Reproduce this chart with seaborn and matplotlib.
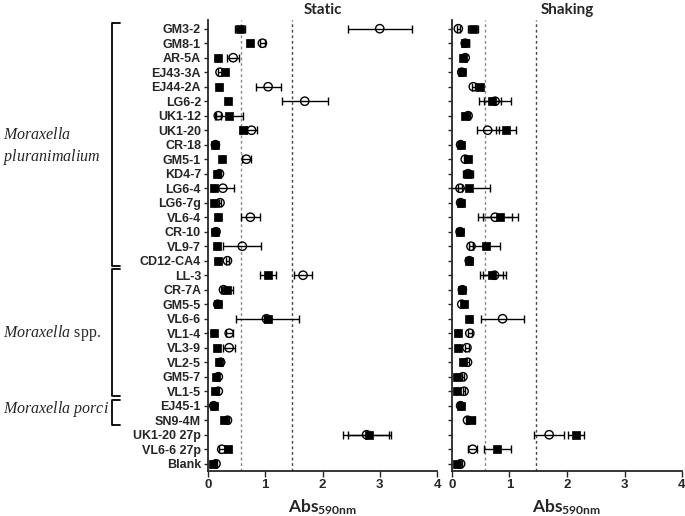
import numpy as np
import pandas as pd
import matplotlib
matplotlib.use("Agg")
import matplotlib.pyplot as plt
import matplotlib.transforms as mtransforms
import seaborn as sns

strains = ["GM3-2", "GM8-1", "AR-5A", "EJ43-3A", "EJ44-2A", "LG6-2", "UK1-12", "UK1-20",
           "CR-18", "GM5-1", "KD4-7", "LG6-4", "LG6-7g", "VL6-4", "CR-10", "VL9-7", "CD12-CA4",
           "LL-3", "CR-7A", "GM5-5", "VL6-6", "VL1-4", "VL3-9", "VL2-5", "GM5-7", "VL1-5",
           "EJ45-1", "SN9-4M", "UK1-20 27p", "VL6-6 27p", "Blank"]

static_sq = [0.56, 0.73, 0.18, 0.30, 0.19, 0.35, 0.37, 0.62, 0.12, 0.24, 0.15, 0.10, 0.10, 0.18, 0.13, 0.16, 0.17,
             1.05, 0.34, 0.17, 1.04, 0.11, 0.16, 0.19, 0.14, 0.12, 0.10, 0.28, 2.81, 0.35, 0.08]
static_sq_err = [0.08, 0.03, 0.02, 0.03, 0.02, 0.03, 0.24, 0.06, 0.02, 0.02, 0.02, 0.02, 0.02, 0.02, 0.02, 0.02, 0.02,
                 0.14, 0.10, 0.02, 0.55, 0.02, 0.02, 0.03, 0.02, 0.02, 0.02, 0.03, 0.36, 0.05, 0.02]
static_circ = [3.00, 0.95, 0.44, 0.21, 1.05, 1.69, 0.18, 0.76, 0.13, 0.67, 0.20, 0.26, 0.21, 0.74, 0.14, 0.60, 0.34,
               1.66, 0.27, 0.17, 1.02, 0.37, 0.37, 0.22, 0.18, 0.18, 0.10, 0.34, 2.77, 0.24, 0.14]
static_circ_err = [0.56, 0.04, 0.11, 0.03, 0.22, 0.40, 0.04, 0.10, 0.02, 0.08, 0.02, 0.20, 0.02, 0.16, 0.02, 0.33, 0.02,
                   0.16, 0.04, 0.02, 0.05, 0.06, 0.10, 0.02, 0.02, 0.02, 0.02, 0.03, 0.42, 0.05, 0.02]

shaking_sq = [0.37, 0.23, 0.19, 0.17, 0.48, 0.70, 0.23, 0.94, 0.15, 0.28, 0.28, 0.30, 0.15, 0.84, 0.14, 0.60, 0.30,
              0.69, 0.18, 0.21, 0.30, 0.11, 0.11, 0.20, 0.09, 0.09, 0.15, 0.33, 2.16, 0.79, 0.09]
shaking_sq_err = [0.09, 0.06, 0.03, 0.02, 0.04, 0.15, 0.04, 0.17, 0.02, 0.04, 0.08, 0.36, 0.02, 0.30, 0.02, 0.24, 0.04,
                  0.20, 0.02, 0.03, 0.03, 0.02, 0.02, 0.03, 0.02, 0.02, 0.02, 0.07, 0.14, 0.24, 0.02]
shaking_circ = [0.11, 0.23, 0.23, 0.17, 0.37, 0.75, 0.28, 0.62, 0.15, 0.23, 0.28, 0.14, 0.15, 0.75, 0.14, 0.33, 0.30,
                0.74, 0.18, 0.17, 0.88, 0.31, 0.26, 0.27, 0.19, 0.21, 0.15, 0.27, 1.69, 0.36, 0.15]
shaking_circ_err = [0.03, 0.06, 0.02, 0.02, 0.03, 0.28, 0.03, 0.19, 0.02, 0.02, 0.05, 0.03, 0.02, 0.30, 0.02, 0.03, 0.03,
                    0.20, 0.02, 0.02, 0.37, 0.03, 0.03, 0.02, 0.02, 0.02, 0.02, 0.03, 0.26, 0.08, 0.02]

thresholds = [0.58, 1.46]
x_ticks = [0, 1, 2, 3, 4]

groups = [("Moraxella\npluranimalium", "GM3-2", "CD12-CA4"),
          (r"$\it{Moraxella}$ spp.", "LL-3", "VL1-5"),
          (r"$\it{Moraxella\ porci}$", "EJ45-1", "SN9-4M")]

sns.set_style("ticks")
plt.rcParams["font.family"] = ["Liberation Sans", "DejaVu Sans"]
plt.rcParams["mathtext.fontset"] = "custom"
plt.rcParams["mathtext.it"] = "Liberation Serif:italic"
plt.rcParams["mathtext.rm"] = "Liberation Serif"
plt.rcParams["mathtext.bf"] = "Lato:bold"

fig = plt.figure(figsize=(6.85, 5.16), dpi=100)
ax1 = fig.add_axes([208 / 685, 1 - 471 / 516, 229 / 685, 451 / 516])
ax2 = fig.add_axes([452 / 685, 1 - 471 / 516, 230 / 685, 451 / 516])

panels = [(ax1, "Static", static_sq, static_sq_err, static_circ, static_circ_err),
          (ax2, "Shaking", shaking_sq, shaking_sq_err, shaking_circ, shaking_circ_err)]

for ax, title, sq, sqe, ci, cie in panels:
    df = pd.DataFrame({"strain": strains, "sq": sq, "sqe": sqe, "ci": ci, "cie": cie})
    sns.scatterplot(data=df, x="sq", y="strain", marker="s", color="black", s=34,
                    edgecolor="black", linewidth=0.5, ax=ax, zorder=3)
    ax.errorbar(df["sq"], df["strain"], xerr=df["sqe"], fmt="none", ecolor="black",
                elinewidth=1.0, capsize=3, capthick=1.0, zorder=2)
    ax.errorbar(df["ci"], df["strain"], xerr=df["cie"], fmt="none", ecolor="black",
                elinewidth=1.0, capsize=3, capthick=1.0, zorder=2)
    sns.scatterplot(data=df, x="ci", y="strain", marker="o", s=36,
                    facecolors="none", edgecolor="black", linewidth=1.0, ax=ax, zorder=4)
    for t, c in zip(thresholds, ["#888888", "#444444"]):
        ax.axvline(t, color=c, linestyle=(0, (2, 2)), linewidth=1.0, zorder=1)
    ax.set_xlim(0, 4)
    ax.set_ylim(len(strains) - 0.5, -0.6)
    ax.set_xticks(x_ticks)
    ax.set_xticklabels([str(v) for v in x_ticks], fontweight="bold", fontsize=9.5)
    ax.set_xlabel(r"$\mathbf{Abs_{590nm}}$", fontsize=12.5, labelpad=4)
    ax.set_ylabel("")
    ax.set_title(title, fontweight="bold", fontsize=11, pad=4, family="Lato")
    sns.despine(ax=ax)
    for sp in ["left", "bottom"]:
        ax.spines[sp].set_linewidth(1.3)
    ax.tick_params(axis="y", length=3, width=1.0, pad=2)
    ax.tick_params(axis="x", length=4, width=1.0, pad=2)
    if ax is ax1:
        for lab in ax.get_yticklabels():
            lab.set_fontweight("bold")
            lab.set_fontsize(9)
    else:
        ax.set_yticklabels([])

trans = mtransforms.blended_transform_factory(ax1.transAxes, ax1.transData)
idx = {s: i for i, s in enumerate(strains)}
xb, xt = -0.419, -0.384
for label, first, last in groups:
    y0 = idx[first] - 0.4
    y1 = idx[last] + 0.35
    ax1.plot([xt, xb, xb, xt], [y0, y0, y1, y1], color="black", lw=1.3,
             transform=trans, clip_on=False)
    if first == "GM3-2":
        ax1.text(-0.895, 8.15, r"$\it{Moraxella}$" + "\n" + r"$\it{pluranimalium}$",
                 transform=trans, ha="left", va="center", fontsize=11.5,
                 family="Liberation Serif", linespacing=1.3)
    elif first == "LL-3":
        ax1.text(-0.895, 21.0, label, transform=trans, ha="left", va="center",
                 fontsize=11.5, family="Liberation Serif")
    else:
        ax1.text(-0.895, 26.2, label, transform=trans, ha="left", va="center",
                 fontsize=11.5, family="Liberation Serif")

fig.savefig("out.png", dpi=100)
